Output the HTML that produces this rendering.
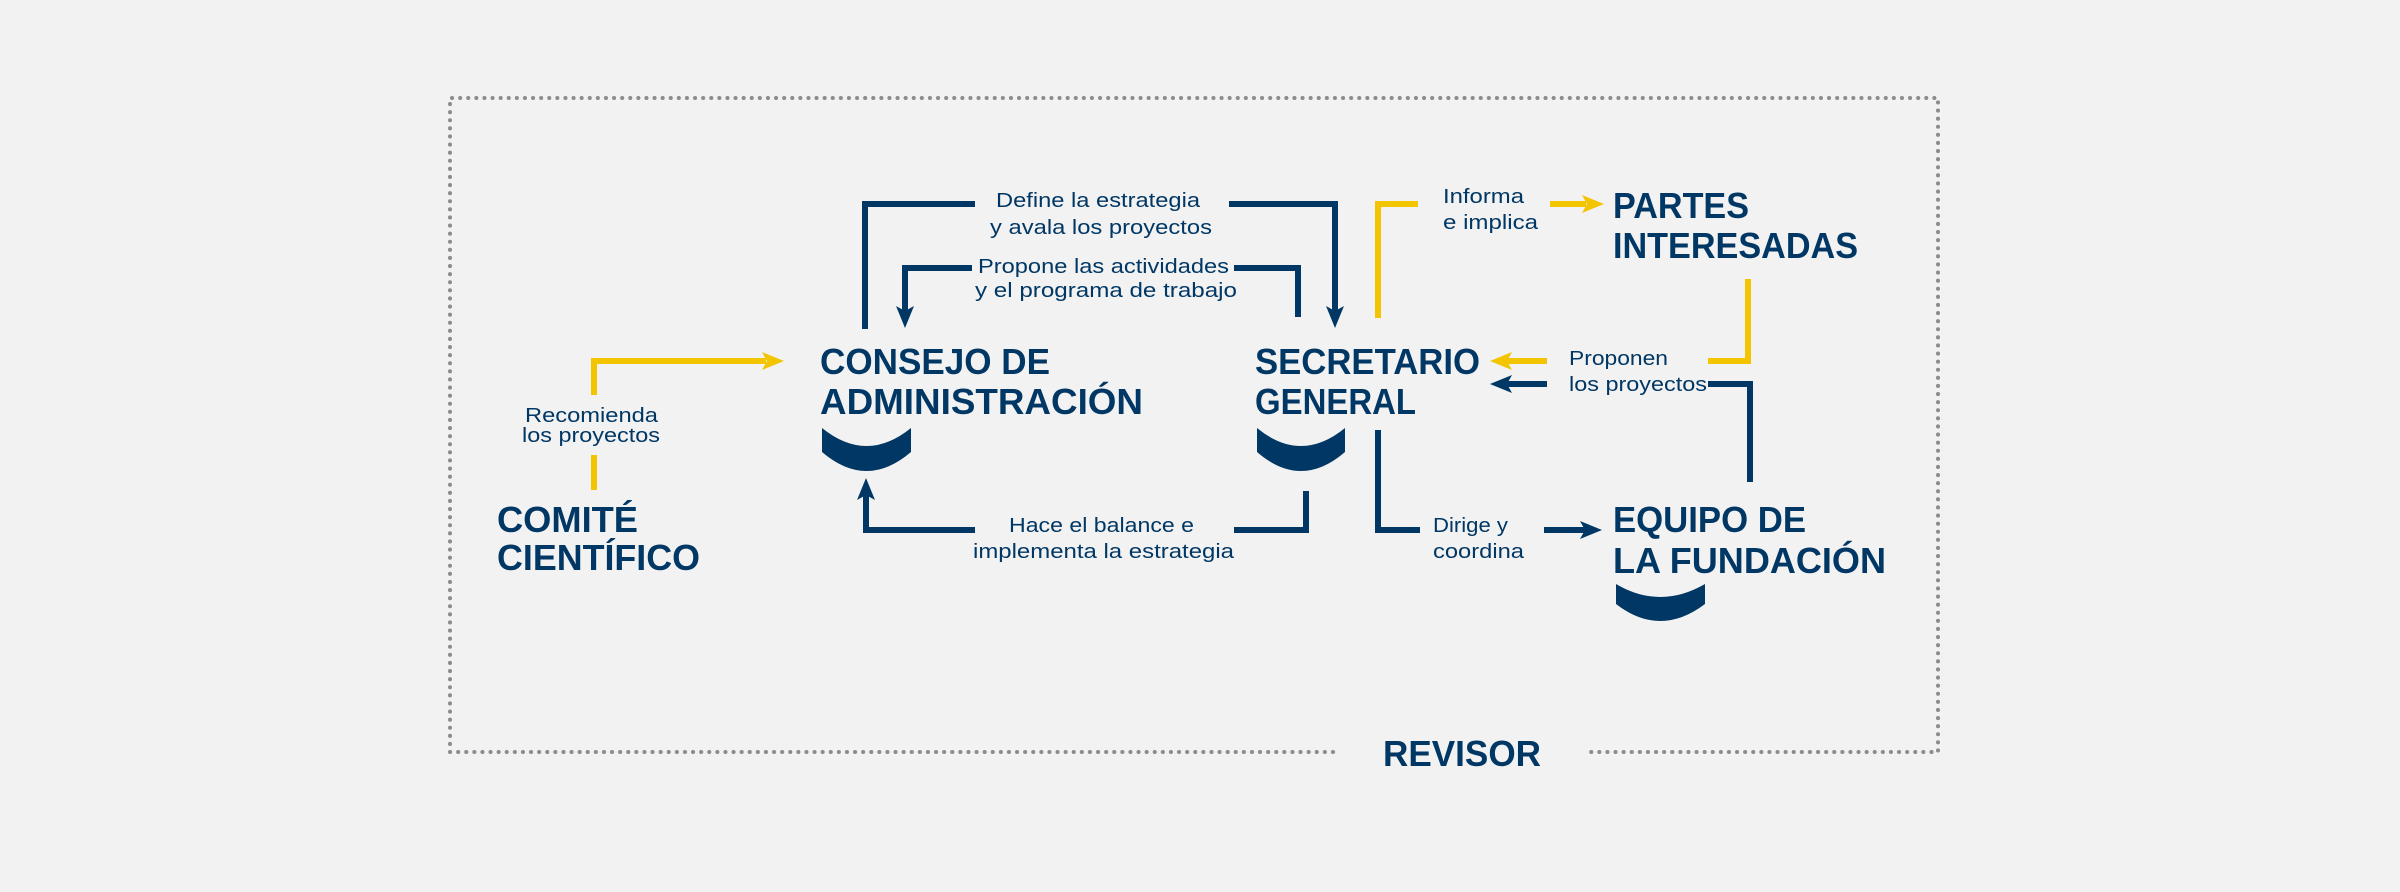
<!DOCTYPE html>
<html><head><meta charset="utf-8"><style>
html,body{margin:0;padding:0;background:#f2f2f2;}
svg{display:block}
.t{font-family:"Liberation Sans",sans-serif;font-weight:bold;font-size:36px;fill:#003764}
.l{font-family:"Liberation Sans",sans-serif;font-size:20px;fill:#003764}
</style></head><body>
<svg width="2400" height="892" viewBox="0 0 2400 892" xmlns="http://www.w3.org/2000/svg">
<rect width="2400" height="892" fill="#f2f2f2"/>
<g stroke="#8c8c8c" stroke-width="4" stroke-linecap="round" stroke-dasharray="0.1 8" fill="none">
<path d="M1333,752 L450,752 L450,98 L1938,98 L1938,752 L1588,752"/>
</g>
<g fill="none" stroke="#003764" stroke-width="6" stroke-linejoin="miter">
<path d="M865,329 L865,204 L975,204"/>
<path d="M1229,204 L1335,204 L1335,312"/>
<path d="M1298,317 L1298,268 L1234,268"/>
<path d="M972,268 L905,268 L905,312"/>
<path d="M1306,491 L1306,530 L1234,530"/>
<path d="M975,530 L866,530 L866,494"/>
<path d="M1378,430 L1378,530 L1420,530"/>
<path d="M1544,530 L1585,530"/>
<path d="M1750,482 L1750,384 L1708,384"/>
<path d="M1547,384 L1505,384"/>
</g>
<g fill="none" stroke="#f2c500" stroke-width="6">
<path d="M594,490 L594,455"/>
<path d="M594,395 L594,361 L766,361"/>
<path d="M1378,318 L1378,204 L1418,204"/>
<path d="M1550,204 L1586,204"/>
<path d="M1748,279 L1748,361 L1708,361"/>
<path d="M1547,361 L1505,361"/>
</g>
<g fill="#003764">
<polygon points="1335,328 1326,306 1335,311 1344,306"/>
<polygon points="905,328 896,306 905,311 914,306"/>
<polygon points="866,478 857,500 866,495 875,500"/>
<polygon points="1602,530 1580,521 1585,530 1580,539"/>
<polygon points="1490,384 1512,375 1507,384 1512,393"/>
</g>
<g fill="#f2c500">
<polygon points="784,361 762,352 767,361 762,370"/>
<polygon points="1604,204 1582,195 1587,204 1582,213"/>
<polygon points="1490,361 1512,352 1507,361 1512,370"/>
</g>
<g fill="#003764">
<path d="M822,428 Q866.5,464 911,428 L911,452 Q866.5,490 822,452 Z"/>
<path d="M1257,428 Q1301,464 1345,428 L1345,452 Q1301,490 1257,452 Z"/>
<path d="M1616,584 Q1660,610 1705,584 L1705,604 Q1660,638 1616,604 Z"/>
</g>
<text class="t" x="820" y="374" textLength="230" lengthAdjust="spacingAndGlyphs">CONSEJO DE</text>
<text class="t" x="820" y="414" textLength="323" lengthAdjust="spacingAndGlyphs">ADMINISTRACIÓN</text>
<text class="t" x="1255" y="374" textLength="225" lengthAdjust="spacingAndGlyphs">SECRETARIO</text>
<text class="t" x="1255" y="414" textLength="161" lengthAdjust="spacingAndGlyphs">GENERAL</text>
<text class="t" x="1613" y="218" textLength="136" lengthAdjust="spacingAndGlyphs">PARTES</text>
<text class="t" x="1613" y="258" textLength="245" lengthAdjust="spacingAndGlyphs">INTERESADAS</text>
<text class="t" x="1613" y="532" textLength="193" lengthAdjust="spacingAndGlyphs">EQUIPO DE</text>
<text class="t" x="1613" y="573" textLength="273" lengthAdjust="spacingAndGlyphs">LA FUNDACIÓN</text>
<text class="t" x="497" y="532" textLength="141" lengthAdjust="spacingAndGlyphs">COMITÉ</text>
<text class="t" x="497" y="570" textLength="203" lengthAdjust="spacingAndGlyphs">CIENTÍFICO</text>
<text class="t" x="1383" y="766" textLength="158" lengthAdjust="spacingAndGlyphs">REVISOR</text>
<text class="l" x="996" y="207" textLength="204" lengthAdjust="spacingAndGlyphs">Define la estrategia</text>
<text class="l" x="990" y="234" textLength="222" lengthAdjust="spacingAndGlyphs">y avala los proyectos</text>
<text class="l" x="978" y="273" textLength="251" lengthAdjust="spacingAndGlyphs">Propone las actividades</text>
<text class="l" x="975" y="297" textLength="262" lengthAdjust="spacingAndGlyphs">y el programa de trabajo</text>
<text class="l" x="1009" y="532" textLength="185" lengthAdjust="spacingAndGlyphs">Hace el balance e</text>
<text class="l" x="973" y="558" textLength="261" lengthAdjust="spacingAndGlyphs">implementa la estrategia</text>
<text class="l" x="525" y="422" textLength="133" lengthAdjust="spacingAndGlyphs">Recomienda</text>
<text class="l" x="522" y="442" textLength="138" lengthAdjust="spacingAndGlyphs">los proyectos</text>
<text class="l" x="1443" y="203" textLength="81" lengthAdjust="spacingAndGlyphs">Informa</text>
<text class="l" x="1443" y="229" textLength="95" lengthAdjust="spacingAndGlyphs">e implica</text>
<text class="l" x="1569" y="365" textLength="99" lengthAdjust="spacingAndGlyphs">Proponen</text>
<text class="l" x="1569" y="391" textLength="138" lengthAdjust="spacingAndGlyphs">los proyectos</text>
<text class="l" x="1433" y="532" textLength="75" lengthAdjust="spacingAndGlyphs">Dirige y</text>
<text class="l" x="1433" y="558" textLength="91" lengthAdjust="spacingAndGlyphs">coordina</text>
</svg>
</body></html>
